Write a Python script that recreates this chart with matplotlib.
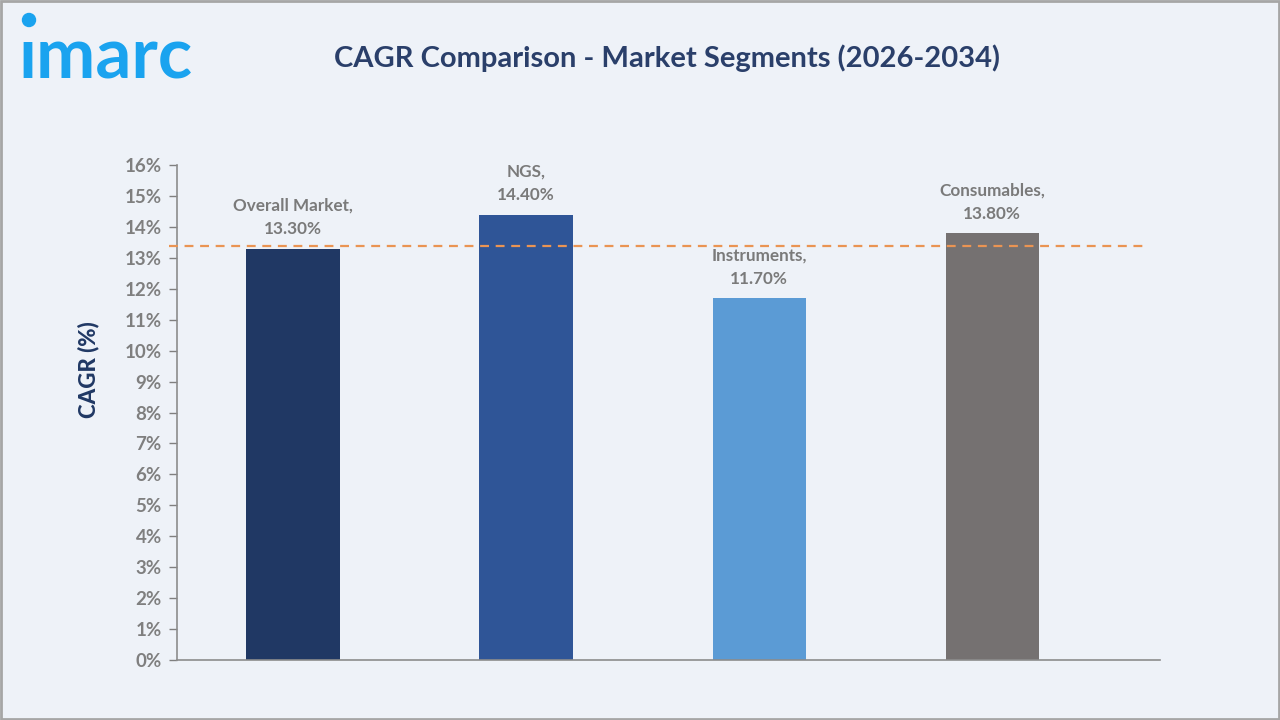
# coding: utf-8

import matplotlib
matplotlib.use('Agg')
import matplotlib.pyplot as plt
from matplotlib.patches import Rectangle, Ellipse

segments = ['Overall Market', 'NGS', 'Instruments', 'Consumables']
cagr = [13.3, 14.4, 11.7, 13.8]
bar_colors = ['#203864', '#2f5597', '#5b9bd5', '#757171']
reference_line = 13.38
y_ticks = list(range(0, 17))


def main():
    plt.rcParams['font.family'] = ['Lato', 'DejaVu Sans']
    bg = '#eef2f8'
    fig = plt.figure(figsize=(12.8, 7.2), dpi=100, facecolor=bg)
    ax = fig.add_axes([177 / 1280, 60 / 720, 983 / 1280, 495 / 720])
    ax.set_facecolor(bg)

    x = list(range(len(segments)))
    ax.bar(x, cagr, width=0.40, color=bar_colors, zorder=2)
    ax.set_xlim(-0.498, 3.72)
    ax.set_ylim(0, 16)

    ax.axhline(reference_line, xmin=-0.008, xmax=0.988, color='#ea9453',
               linestyle=(0, (4, 3)), linewidth=1.6, zorder=3, clip_on=False)

    for xi, name, val in zip(x, segments, cagr):
        ax.annotate(f'{name},\n{val:.2f}%', (xi, val), xytext=(0, 8),
                    textcoords='offset points', ha='center', va='bottom',
                    fontsize=12.3, color='#7a7a7a', fontweight='bold',
                    linespacing=1.6)

    ax.set_yticks(y_ticks)
    ax.set_yticklabels([f'{t}%' for t in y_ticks])
    ax.set_xticks([])
    ax.tick_params(axis='y', colors='#7f7f7f', labelsize=13.5, length=6,
                   width=1, pad=5)
    for lab in ax.get_yticklabels():
        lab.set_fontweight('bold')
    for side in ['top', 'right']:
        ax.spines[side].set_visible(False)
    for side in ['left', 'bottom']:
        ax.spines[side].set_color('#8c8c8c')
        ax.spines[side].set_linewidth(1.2)

    ax.set_ylabel('CAGR (%)', fontsize=16, fontweight='black', color='#203864')
    ax.yaxis.set_label_coords(-0.079, 0.586)

    fig.text(667 / 1280, 1 - 58 / 720, 'CAGR Comparison - Market Segments (2026-2034)',
             ha='center', va='center', fontsize=21, fontweight='bold',
             color='#2a3f6a')
    fig.text(18 / 1280, 1 - 58 / 720, 'ımarc', ha='left', va='center',
             fontsize=51, fontweight='bold', color='#1aa3ef')
    fig.add_artist(Ellipse((29 / 1280, 1 - 20 / 720), 13 / 1280, 13 / 720,
                           transform=fig.transFigure, color='#1aa3ef'))

    fig.add_artist(Rectangle((0.001, 0.001), 0.998, 0.998, transform=fig.transFigure,
                             fill=False, edgecolor='#a6a6a6', linewidth=2))

    fig.savefig('out.png', dpi=100, facecolor=bg)


if __name__ == '__main__':
    main()
